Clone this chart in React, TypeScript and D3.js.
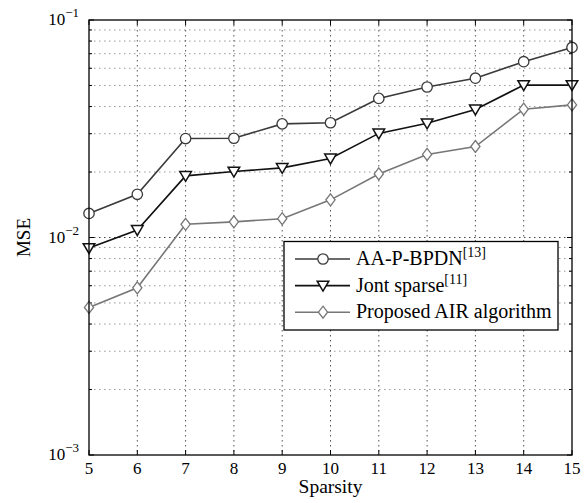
import React, { useEffect, useRef } from "react";
import * as d3 from "d3";

const sparsity = [5, 6, 7, 8, 9, 10, 11, 12, 13, 14, 15];
const aapbpdn = [0.0129, 0.0158, 0.0285, 0.0286, 0.0333, 0.0337, 0.0436, 0.0492, 0.054, 0.0643, 0.0748];
const jontSparse = [0.00895, 0.01083, 0.0192, 0.0201, 0.0209, 0.0231, 0.0301, 0.0335, 0.0388, 0.0502, 0.0502];
const proposedAir = [0.00477, 0.00587, 0.0115, 0.0118, 0.0122, 0.0149, 0.0196, 0.0241, 0.0262, 0.0389, 0.0407];
const yTickExps = [-3, -2, -1];

const seriesList = [
  { name: "AA-P-BPDN", ref: "[13]", values: aapbpdn, color: "#3a3a3a", marker: "circle" },
  { name: "Jont sparse", ref: "[11]", values: jontSparse, color: "#111111", marker: "triangle" },
  { name: "Proposed AIR algorithm", ref: "", values: proposedAir, color: "#777777", marker: "diamond" },
];

const FONT = "'Liberation Serif', 'Times New Roman', serif";

function drawMarker(g: any, type: string, x: number, y: number, color: string) {
  if (type === "circle") {
    g.append("circle").attr("cx", x).attr("cy", y).attr("r", 5.2)
      .attr("fill", "white").attr("stroke", color).attr("stroke-width", 1.3);
  } else if (type === "triangle") {
    const s = 5.8;
    g.append("path")
      .attr("d", `M${x - s},${y - s * 0.75} L${x + s},${y - s * 0.75} L${x},${y + s * 0.95} Z`)
      .attr("fill", "white").attr("stroke", color).attr("stroke-width", 1.5);
  } else {
    g.append("path")
      .attr("d", `M${x},${y - 6} L${x + 4.6},${y} L${x},${y + 6} L${x - 4.6},${y} Z`)
      .attr("fill", "white").attr("stroke", color).attr("stroke-width", 1.3);
  }
}

export default function App() {
  const ref = useRef<SVGSVGElement>(null);

  useEffect(() => {
    const svg = d3.select(ref.current);
    svg.selectAll("*").remove();
    const margin = { top: 20, right: 15, bottom: 48, left: 89 };
    const W = 587, H = 503;
    const w = W - margin.left - margin.right;
    const h = H - margin.top - margin.bottom;

    const x = d3.scaleLinear().domain([5, 15]).range([0, w]);
    const y = d3.scaleLog().domain([1e-3, 1e-1]).range([h, 0]);

    const g = svg.append("g").attr("transform", `translate(${margin.left},${margin.top})`);

    // grid
    const minors: number[] = [];
    for (let e = -3; e < -1; e++) for (let k = 2; k <= 9; k++) minors.push(k * Math.pow(10, e));
    g.selectAll(".minor").data(minors).join("line")
      .attr("x1", 0).attr("x2", w).attr("y1", (d) => y(d)).attr("y2", (d) => y(d))
      .attr("stroke", "#9a9a9a").attr("stroke-width", 1).attr("stroke-dasharray", "1.5,3.5");
    g.selectAll(".major").data([1e-2]).join("line")
      .attr("x1", 0).attr("x2", w).attr("y1", (d) => y(d)).attr("y2", (d) => y(d))
      .attr("stroke", "#444").attr("stroke-width", 1).attr("stroke-dasharray", "1.5,3.5");
    g.selectAll(".vgrid").data(sparsity.slice(1, -1)).join("line")
      .attr("x1", (d) => x(d)).attr("x2", (d) => x(d)).attr("y1", 0).attr("y2", h)
      .attr("stroke", "#555").attr("stroke-width", 1).attr("stroke-dasharray", "1.5,3.5");

    // ticks
    const ticks = g.append("g").attr("stroke", "#000").attr("stroke-width", 1);
    sparsity.forEach((s) => {
      ticks.append("line").attr("x1", x(s)).attr("x2", x(s)).attr("y1", h).attr("y2", h - 5);
      ticks.append("line").attr("x1", x(s)).attr("x2", x(s)).attr("y1", 0).attr("y2", 5);
    });
    yTickExps.forEach((e) => {
      const v = Math.pow(10, e);
      ticks.append("line").attr("x1", 0).attr("x2", 5).attr("y1", y(v)).attr("y2", y(v));
      ticks.append("line").attr("x1", w).attr("x2", w - 5).attr("y1", y(v)).attr("y2", y(v));
    });
    minors.forEach((v) => {
      ticks.append("line").attr("x1", 0).attr("x2", 3).attr("y1", y(v)).attr("y2", y(v));
      ticks.append("line").attr("x1", w).attr("x2", w - 3).attr("y1", y(v)).attr("y2", y(v));
    });

    // series
    const line = d3.line<number>().x((d, i) => x(sparsity[i])).y((d) => y(d));
    seriesList.forEach((s) => {
      g.append("path").datum(s.values).attr("d", line)
        .attr("fill", "none").attr("stroke", s.color).attr("stroke-width", 1.6);
      s.values.forEach((v, i) => drawMarker(g, s.marker, x(sparsity[i]), y(v), s.color));
    });

    // frame
    g.append("rect").attr("x", 0).attr("y", 0).attr("width", w).attr("height", h)
      .attr("fill", "none").attr("stroke", "#000").attr("stroke-width", 1.3);

    // x tick labels
    g.selectAll(".xl").data(sparsity).join("text")
      .attr("x", (d) => x(d)).attr("y", h + 18.5)
      .attr("text-anchor", "middle").style("font-family", FONT).style("font-size", "17px")
      .text((d) => d);

    // y tick labels
    yTickExps.forEach((e) => {
      const t = g.append("text").attr("x", -10).attr("y", y(Math.pow(10, e)) + 5)
        .attr("text-anchor", "end").style("font-family", FONT).style("font-size", "17px");
      t.append("tspan").text("10");
      t.append("tspan").attr("dy", -8).style("font-size", "13px").text("\u2212" + String(-e));
    });

    // axis labels
    g.append("text").attr("x", w / 2).attr("y", h + 38).attr("text-anchor", "middle")
      .style("font-family", FONT).style("font-size", "19.5px").text("Sparsity");
    g.append("text").attr("transform", `translate(${-59.5},${h / 2}) rotate(-90)`)
      .attr("text-anchor", "middle").style("font-family", FONT).style("font-size", "19px").text("MSE");

    // legend
    const lg = g.append("g").attr("transform", `translate(${284 - margin.left},${241.5 - margin.top})`);
    lg.append("rect").attr("width", 274).attr("height", 88.5)
      .attr("fill", "white").attr("stroke", "#000").attr("stroke-width", 1.3);
    seriesList.forEach((s, i) => {
      const cy = 17.5 + i * 26.6;
      lg.append("line").attr("x1", 11).attr("x2", 66).attr("y1", cy).attr("y2", cy)
        .attr("stroke", s.color).attr("stroke-width", 1.6);
      drawMarker(lg, s.marker, 39, cy, s.color);
      const t = lg.append("text").attr("x", 72).attr("y", cy + 6)
        .style("font-family", FONT).style("font-size", "20px");
      t.append("tspan").text(s.name);
      if (s.ref) t.append("tspan").attr("dy", -8).style("font-size", "14px").text(s.ref);
    });
  }, []);

  return (
    <svg ref={ref} width={587} height={503} style={{ position: "absolute", left: 0, top: 0, background: "white" }} />
  );
}
